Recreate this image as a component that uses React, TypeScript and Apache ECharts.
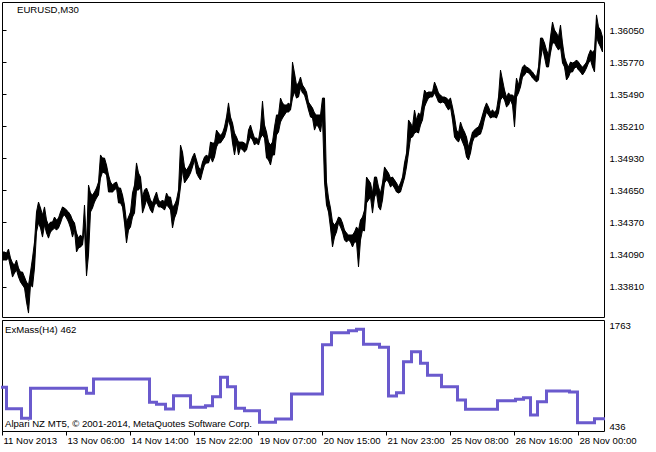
import React, { useEffect, useRef } from "react";
import * as echarts from "echarts";

// x axis: bar index of M30 bars, tick labels
const xTickBars = [0, 64, 128, 192, 256, 320, 384, 448, 512, 576];
const xTickLabels = [
  "11 Nov 2013",
  "13 Nov 06:00",
  "14 Nov 14:00",
  "15 Nov 22:00",
  "19 Nov 07:00",
  "20 Nov 15:00",
  "21 Nov 23:00",
  "25 Nov 08:00",
  "26 Nov 16:00",
  "28 Nov 00:00",
];
const priceTicks = [1.3381, 1.3409, 1.3437, 1.3465, 1.3493, 1.3521, 1.3549, 1.3577, 1.3605];
const priceMin = 1.33541;
const priceMax = 1.36297;
const massTicks = [436, 1763];
const barCount = 602;

// EURUSD M30 price range, one sample every 2 bars
const sampleStep = 2;
const highs = [
  1.34114, 1.34114, 1.34105, 1.3414, 1.34061, 1.34018, 1.34, 1.34044, 1.33974, 1.33939,
  1.33939, 1.33895, 1.33851, 1.33825, 1.33939, 1.34061, 1.34201, 1.34464, 1.34551, 1.34499,
  1.34438, 1.34508, 1.34394, 1.3435, 1.34376, 1.34376, 1.3442, 1.34394, 1.34411, 1.34464,
  1.34508, 1.34499, 1.34481, 1.34464, 1.34438, 1.34394, 1.34368, 1.3428, 1.34236, 1.34263,
  1.34236, 1.34525, 1.34175, 1.347, 1.3463, 1.34613, 1.34639, 1.34674, 1.34726, 1.34963,
  1.34936, 1.34936, 1.34875, 1.34788, 1.34726, 1.347, 1.34718, 1.34726, 1.34674, 1.34674,
  1.34613, 1.34525, 1.34376, 1.3442, 1.34464, 1.3463, 1.347, 1.34893, 1.34805, 1.3477,
  1.34595, 1.34656, 1.34674, 1.3463, 1.34569, 1.34543, 1.34595, 1.34639, 1.34569, 1.34551,
  1.34569, 1.34551, 1.3463, 1.34595, 1.34595, 1.34508, 1.34525, 1.34569, 1.34656, 1.3505,
  1.34989, 1.34858, 1.34831, 1.34858, 1.34893, 1.34945, 1.3498, 1.34919, 1.34858, 1.34831,
  1.34901, 1.34945, 1.34963, 1.34945, 1.35076, 1.35068, 1.35068, 1.35181, 1.35155, 1.35138,
  1.35155, 1.35208, 1.35295, 1.35418, 1.35295, 1.35243, 1.35155, 1.3512, 1.35076, 1.35076,
  1.35076, 1.35068, 1.3505, 1.35181, 1.35225, 1.35164, 1.35111, 1.35111, 1.35094, 1.35199,
  1.35435, 1.35225, 1.35164, 1.35076, 1.3505, 1.35076, 1.35208, 1.35313, 1.35313, 1.35461,
  1.35418, 1.354, 1.354, 1.35418, 1.354, 1.35776, 1.3568, 1.35575, 1.35593, 1.35645,
  1.35575, 1.35549, 1.35514, 1.35426, 1.354, 1.35374, 1.3533, 1.35313, 1.35313, 1.35313,
  1.35461, 1.35461, 1.34726, 1.34586, 1.34499, 1.34376, 1.3435, 1.34376, 1.3442, 1.34411,
  1.34368, 1.34306, 1.3428, 1.34263, 1.34263, 1.34263, 1.34289, 1.34333, 1.34306, 1.34394,
  1.3442, 1.34481, 1.3477, 1.34744, 1.34718, 1.3463, 1.3477, 1.3477, 1.34683, 1.3463,
  1.34718, 1.34858, 1.34831, 1.34805, 1.34761, 1.3477, 1.34744, 1.34718, 1.34683, 1.34718,
  1.3477, 1.34893, 1.3498, 1.35269, 1.35243, 1.35208, 1.35356, 1.35269, 1.3533, 1.35313,
  1.35418, 1.35531, 1.35505, 1.35514, 1.35514, 1.35514, 1.35601, 1.35558, 1.35505, 1.35488,
  1.3547, 1.3547, 1.35461, 1.35444, 1.35461, 1.35383, 1.35295, 1.35181, 1.35155, 1.35251,
  1.35199, 1.35164, 1.3512, 1.35033, 1.35094, 1.35164, 1.35181, 1.35199, 1.35208, 1.35251,
  1.35313, 1.35374, 1.35418, 1.35383, 1.35339, 1.35356, 1.35339, 1.35356, 1.3547, 1.35706,
  1.35619, 1.35531, 1.3547, 1.35505, 1.35488, 1.35488, 1.3547, 1.35636, 1.35575, 1.35663,
  1.35733, 1.3575, 1.35733, 1.35724, 1.35706, 1.35689, 1.35663, 1.35645, 1.35733, 1.35986,
  1.35986, 1.35943, 1.35881, 1.35838, 1.35995, 1.36126, 1.36056, 1.3603, 1.35995, 1.361,
  1.35943, 1.3582, 1.35768, 1.35733, 1.35776, 1.35768, 1.35776, 1.35794, 1.35776, 1.3575,
  1.35733, 1.3575, 1.35776, 1.35838, 1.35881, 1.35864, 1.35881, 1.36188, 1.36083, 1.36056,
  1.35995,
];
const lows = [
  1.34044, 1.34044, 1.34044, 1.34061, 1.33983, 1.33895, 1.3393, 1.33956, 1.33895, 1.33851,
  1.33825, 1.33799, 1.33676, 1.3358, 1.33825, 1.33808, 1.33974, 1.34289, 1.34368, 1.34324,
  1.34245, 1.3435, 1.3428, 1.34236, 1.34289, 1.34306, 1.34324, 1.34306, 1.34324, 1.34368,
  1.3442, 1.34438, 1.34411, 1.34376, 1.34324, 1.34245, 1.34306, 1.34114, 1.34149, 1.34158,
  1.34175, 1.34324, 1.33904, 1.34088, 1.34464, 1.34499, 1.34551, 1.34586, 1.34613, 1.34761,
  1.34814, 1.34805, 1.34788, 1.34639, 1.34639, 1.34639, 1.34656, 1.34674, 1.34543, 1.34543,
  1.34508, 1.34368, 1.34193, 1.34306, 1.34333, 1.3442, 1.34455, 1.34656, 1.34656, 1.34683,
  1.34455, 1.34508, 1.34569, 1.34525, 1.34481, 1.34455, 1.34525, 1.34543, 1.34508, 1.34508,
  1.34499, 1.34481, 1.34525, 1.34508, 1.34481, 1.34324, 1.34411, 1.34455, 1.34543, 1.34683,
  1.34831, 1.34718, 1.34744, 1.3477, 1.34805, 1.34858, 1.34919, 1.34805, 1.3477, 1.34744,
  1.34814, 1.34875, 1.34893, 1.34893, 1.34945, 1.34901, 1.34945, 1.35033, 1.35068, 1.35068,
  1.35094, 1.3512, 1.35181, 1.35269, 1.35208, 1.35068, 1.34963, 1.35068, 1.34963, 1.35024,
  1.35006, 1.34989, 1.35006, 1.35076, 1.3512, 1.35094, 1.3505, 1.35068, 1.3505, 1.35111,
  1.35138, 1.35111, 1.34936, 1.34919, 1.34875, 1.34963, 1.34963, 1.35138, 1.35164, 1.35251,
  1.35286, 1.35313, 1.35339, 1.35339, 1.35356, 1.35461, 1.35514, 1.35461, 1.3547, 1.35549,
  1.35505, 1.35488, 1.35426, 1.35356, 1.35295, 1.35286, 1.35181, 1.35225, 1.35208, 1.35164,
  1.35286, 1.34726, 1.34525, 1.34464, 1.34324, 1.34158, 1.34245, 1.34289, 1.34368, 1.34333,
  1.34289, 1.34219, 1.34201, 1.34219, 1.34201, 1.34158, 1.34201, 1.34201, 1.33983, 1.34219,
  1.34306, 1.34298, 1.34543, 1.34569, 1.34595, 1.34455, 1.34595, 1.3463, 1.34508, 1.34481,
  1.34569, 1.34718, 1.34744, 1.34726, 1.34683, 1.347, 1.34674, 1.34639, 1.3463, 1.34639,
  1.347, 1.34761, 1.34858, 1.3498, 1.35111, 1.3512, 1.35155, 1.35164, 1.35155, 1.35225,
  1.35269, 1.35383, 1.35426, 1.35461, 1.3547, 1.3547, 1.35505, 1.3547, 1.35426, 1.35418,
  1.35426, 1.35418, 1.35383, 1.35356, 1.35383, 1.35269, 1.3512, 1.35094, 1.35076, 1.3512,
  1.35076, 1.35033, 1.34945, 1.34919, 1.3498, 1.35076, 1.3512, 1.3512, 1.35138, 1.35146,
  1.35199, 1.35278, 1.35339, 1.35313, 1.35286, 1.35295, 1.35295, 1.35286, 1.3533, 1.35444,
  1.3547, 1.35444, 1.35383, 1.354, 1.35444, 1.354, 1.35208, 1.3547, 1.35505, 1.35558,
  1.35645, 1.35663, 1.35689, 1.3568, 1.35663, 1.35636, 1.35619, 1.35601, 1.35619, 1.35794,
  1.35899, 1.3582, 1.35733, 1.35733, 1.35855, 1.35943, 1.35943, 1.35908, 1.35881, 1.35908,
  1.35768, 1.35733, 1.35619, 1.35645, 1.35689, 1.35689, 1.35724, 1.35733, 1.35706, 1.35689,
  1.35663, 1.35689, 1.35724, 1.35768, 1.35794, 1.35733, 1.35689, 1.35995, 1.35943, 1.35908,
  1.35864,
];

// ExMass(H4) indicator: bar index where each H4 step starts, and its value
const massStart = [
  0, 4, 19, 28, 84, 91, 147, 154, 163, 171,
  188, 203, 210, 218, 225, 233, 242, 257, 273, 289,
  320, 329, 346, 354, 361, 377, 386, 394, 401, 409,
  418, 425, 439, 455, 463, 495, 513, 521, 528, 535,
  544, 567, 575, 592,
];
const massValue = [
  964, 709, 594, 952, 893, 1064, 785, 761, 705, 864,
  725, 744, 852, 1084, 972, 713, 685, 546, 585, 884,
  1474, 1617, 1641, 1658, 1478, 1443, 860, 900, 1270, 1390,
  1251, 1108, 972, 813, 701, 804, 821, 840, 633, 792,
  920, 908, 541, 589,
];
const massEnd = 601;

const FONT = '"Liberation Sans", Arial, sans-serif';
const FS = 9.6;

export default function App() {
  const ref = useRef<HTMLDivElement>(null);
  useEffect(() => {
    if (!ref.current) return;
    const chart = echarts.init(ref.current, null, { renderer: "svg", width: 656, height: 452 });

    // each item links one sample to the next: [x0, high0, low0, x1, high1, low1]
    const bandData = highs.slice(0, -1).map((h, k) => [
      k * sampleStep,
      h,
      lows[k],
      (k + 1) * sampleStep,
      highs[k + 1],
      lows[k + 1],
    ]);
    const massData = massStart.map((s, i) => [s, massValue[i]]);
    massData.push([massEnd, massValue[massValue.length - 1]]);

    const labelBase = { color: "#000", fontSize: FS, fontFamily: FONT };

    chart.setOption({
      animation: false,
      backgroundColor: "#fff",
      grid: [
        { left: 2.5, top: 2.5, width: 602, height: 315, show: true, borderColor: "#000", borderWidth: 1, backgroundColor: "#fff" },
        { left: 2.5, top: 320.5, width: 602, height: 111, show: true, borderColor: "#000", borderWidth: 1, backgroundColor: "#fff" },
      ],
      xAxis: [
        { gridIndex: 0, type: "value", min: 0, max: barCount, show: false },
        {
          gridIndex: 1,
          type: "value",
          min: 0,
          max: barCount,
          axisLine: { show: false },
          splitLine: { show: false },
          axisTick: { show: true, customValues: xTickBars, length: 4, lineStyle: { color: "#000", width: 1 } },
          axisLabel: {
            ...labelBase,
            customValues: xTickBars,
            formatter: (v: number) => xTickLabels[xTickBars.indexOf(v)] ?? "",
            align: "left",
            margin: 4,
            padding: [0, 0, 0, 1],
          },
        },
      ],
      yAxis: [
        {
          gridIndex: 0,
          type: "value",
          position: "right",
          min: priceMin,
          max: priceMax,
          axisLine: { show: false },
          splitLine: { show: false },
          axisTick: { show: true, customValues: priceTicks, length: 4, lineStyle: { color: "#000", width: 1 } },
          axisLabel: {
            ...labelBase,
            customValues: priceTicks,
            formatter: (v: number) => v.toFixed(5),
            margin: 5,
          },
        },
        {
          gridIndex: 1,
          type: "value",
          position: "right",
          min: massTicks[0],
          max: massTicks[1],
          axisLine: { show: false },
          splitLine: { show: false },
          axisTick: { show: true, customValues: massTicks, length: 4, lineStyle: { color: "#000", width: 1 } },
          axisLabel: {
            ...labelBase,
            customValues: massTicks,
            margin: 5,
            formatter: (v: number) => (v === massTicks[1] ? `{t|${v}}` : `{b|${v}}`),
            rich: {
              t: { ...labelBase, padding: [10, 0, 0, 0] },
              b: { ...labelBase, padding: [0, 0, 10, 0] },
            },
          },
        },
      ],
      series: [
        {
          type: "custom",
          xAxisIndex: 0,
          yAxisIndex: 0,
          data: bandData,
          silent: true,
          clip: true,
          encode: { x: [0, 3], y: [1, 2, 4, 5] },
          renderItem: (_params: any, api: any) => {
            const a = api.coord([api.value(0), api.value(1)]);
            const b = api.coord([api.value(0), api.value(2)]);
            const c = api.coord([api.value(3), api.value(4)]);
            const d = api.coord([api.value(3), api.value(5)]);
            return {
              type: "polygon",
              shape: { points: [a, c, d, b] },
              style: { fill: "#000", stroke: "#000", lineWidth: 1 },
            };
          },
        },
        {
          type: "line",
          xAxisIndex: 1,
          yAxisIndex: 1,
          data: massData,
          step: "end",
          symbol: "none",
          silent: true,
          lineStyle: { color: "#6A5ACD", width: 3, join: "miter", cap: "square" },
        },
      ],
      graphic: [
        { type: "text", left: 17, top: 4, style: { text: "EURUSD,M30", fill: "#000", font: `${FS}px ${FONT}` } },
        { type: "text", left: 5, top: 324, style: { text: "ExMass(H4) 462", fill: "#000", font: `${FS}px ${FONT}` } },
        {
          type: "text",
          left: 5,
          top: 418,
          style: { text: "Alpari NZ MT5, © 2001-2014, MetaQuotes Software Corp.", fill: "#000", font: `${FS}px ${FONT}` },
        },
      ],
    });

    return () => chart.dispose();
  }, []);

  return <div ref={ref} style={{ position: "absolute", left: 0, top: 0, width: 656, height: 452 }} />;
}
